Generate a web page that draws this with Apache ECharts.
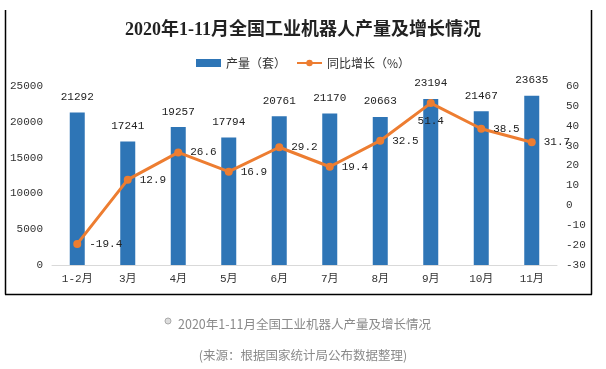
<!DOCTYPE html>
<html>
<head>
<meta charset="utf-8">
<script src="https://cdn.jsdelivr.net/npm/echarts@6/dist/echarts.min.js"></script>
<style>html,body{margin:0;padding:0;background:#fff;}#c{width:606px;height:369px;}</style>
</head>
<body>
<div id="c"></div>
<script>
const categories = ['1-2月','3月','4月','5月','6月','7月','8月','9月','10月','11月'];
const output = [21292, 17241, 19257, 17794, 20761, 21170, 20663, 23194, 21467, 23635];
const growth = [-19.4, 12.9, 26.6, 16.9, 29.2, 19.4, 32.5, 51.4, 38.5, 31.7];
const titleText = '2020年1-11月全国工业机器人产量及增长情况';
const captionText = '2020年1-11月全国工业机器人产量及增长情况';
const sourceText = '(来源：根据国家统计局公布数据整理)';
const seriesNames = ['产量（套）', '同比增长（%）'];

const mono = '"Liberation Mono", "Noto Sans CJK SC", monospace';
const chart = echarts.init(document.getElementById('c'));
chart.setOption({
  animation: false,
  backgroundColor: '#fff',
  title: [
    { text: titleText, left: 'center', top: 16,
      textStyle: { fontFamily: '"Liberation Serif", "Noto Sans CJK SC", serif', fontSize: 18, fontWeight: 'bold', color: '#222' } },
    { text: captionText, left: 173, top: 313,
      textStyle: { fontFamily: '"Noto Sans CJK SC", sans-serif', fontSize: 12.5, fontWeight: 'normal', color: '#8a8a8a' } },
    { text: sourceText, left: 'center', top: 344,
      textStyle: { fontFamily: '"Noto Sans CJK SC", sans-serif', fontSize: 12.5, fontWeight: 'normal', color: '#8a8a8a' } }
  ],
  legend: {
    top: 52, left: 'center', itemGap: 10, itemWidth: 25, itemHeight: 8,
    textStyle: { fontFamily: '"Noto Sans CJK SC", sans-serif', fontSize: 12, color: '#333' },
    data: [
      { name: seriesNames[0], icon: 'rect', itemStyle: { color: '#2E75B6' } },
      { name: seriesNames[1] }
    ]
  },
  grid: { left: 52, right: 49, top: 86, bottom: 104 },
  xAxis: {
    type: 'category', data: categories,
    axisLine: { lineStyle: { color: '#d9d9d9', width: 1 } },
    axisTick: { show: false },
    axisLabel: { fontFamily: mono, fontSize: 11, color: '#333', margin: 9 }
  },
  yAxis: [
    { type: 'value', min: 0, max: 25000, interval: 5000,
      axisLine: { show: false }, axisTick: { show: false }, splitLine: { show: false },
      axisLabel: { fontFamily: mono, fontSize: 11, color: '#333', margin: 9, formatter: v => String(v) } },
    { type: 'value', min: -30, max: 60, interval: 10,
      axisLine: { show: false }, axisTick: { show: false }, splitLine: { show: false },
      axisLabel: { fontFamily: mono, fontSize: 11, color: '#333', margin: 9, formatter: v => String(v) } }
  ],
  series: [
    { name: seriesNames[0], type: 'bar', data: output, barWidth: 15,
      itemStyle: { color: '#2E75B6' },
      label: { show: true, position: 'top', distance: 10, fontFamily: mono, fontSize: 11, color: '#222' } },
    { name: seriesNames[1], type: 'line', yAxisIndex: 1,
      data: growth.map((v, i) => i === 7 ? { value: v, label: { position: 'bottom', distance: 8 } } : v),
      symbol: 'circle', symbolSize: 8,
      lineStyle: { color: '#ED7D31', width: 3 },
      itemStyle: { color: '#ED7D31' },
      label: { show: true, position: 'right', distance: 8, fontFamily: mono, fontSize: 11, color: '#222' } }
  ],
  graphic: [
    { type: 'line', shape: { x1: 5.5, y1: 10, x2: 5.5, y2: 294.5 }, style: { stroke: '#000', lineWidth: 1.5 } },
    { type: 'line', shape: { x1: 591.5, y1: 10, x2: 591.5, y2: 294.5 }, style: { stroke: '#000', lineWidth: 1.5 } },
    { type: 'line', shape: { x1: 5, y1: 294.5, x2: 592, y2: 294.5 }, style: { stroke: '#000', lineWidth: 1.5 } },
    { type: 'circle', shape: { cx: 168, cy: 321, r: 3 }, style: { fill: '#ddd', stroke: '#aaa', lineWidth: 1 } }
  ]
});
</script>
</body>
</html>
